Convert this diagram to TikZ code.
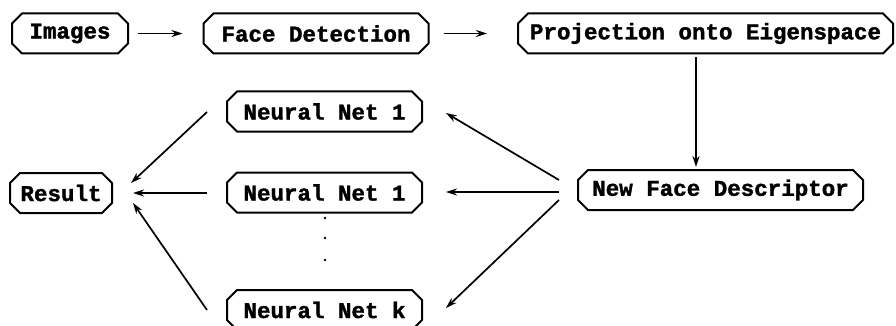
\documentclass[tikz,border=0pt]{standalone}
\usepackage{fontspec}
\setmonofont{Liberation Mono}[BoldFeatures={FakeBold=1.6}]
\usetikzlibrary{shapes.misc,arrows.meta}

\tikzset{
  stage/.style={chamfered rectangle, chamfered rectangle xsep=5pt,
    chamfered rectangle ysep=5pt, draw, line width=2pt,
    inner sep=0pt, minimum height=40pt,
    font=\ttfamily\bfseries\fontsize{22.5}{24}\selectfont},
  flow/.style={line width=1.7pt, -{Stealth[length=11pt,width=7pt]}},
}

\begin{document}
\begin{tikzpicture}[x=1pt,y=-1pt]
  \useasboundingbox (0,0) rectangle (896,326);
  \clip (0,0) rectangle (896,326);

  % pipeline stages
  \node[stage, minimum width=116pt] (img)  at (70,33.5)   {Images};
  \node[stage, minimum width=225pt] (face) at (316,33.5)  {Face Detection};
  \node[stage, minimum width=375pt] (proj) at (705.5,33.5){Projection onto Eigenspace};
  \node[stage, minimum width=285pt] (nfd)  at (720.5,190) {New Face Descriptor};

  % classifier bank
  \node[stage, minimum width=195pt] (nn1) at (324.5,111.5) {Neural Net 1};
  \node[stage, minimum width=195pt] (nn2) at (324.5,192.5) {Neural Net 1};
  \node[stage, minimum width=195pt] (nnk) at (324.5,310)   {Neural Net k};
  \node[stage, minimum width=102pt] (res) at (61,193)      {Result};

  % ellipsis between the nets
  \foreach \yy/\nm in {218/d1, 238/d2, 260/d3}
    \fill (325,\yy) circle[radius=1.4pt] coordinate (\nm);

  % top row (anchor shifts are in page units: positive y points up)
  \draw[flow] ([xshift=9pt]img.east)  -- ([xshift=-20pt]face.west);
  \draw[flow] ([xshift=14pt]face.east) -- ([xshift=-30pt]proj.west);
  \draw[flow] ([xshift=-9.5pt,yshift=-3pt]proj.south) -- ([xshift=-24.5pt,yshift=2pt]nfd.north);

  % descriptor fans out to the nets
  \draw[flow] ([shift={(-18pt,10pt)}]nfd.west)  -- ([shift={(23pt,-1.5pt)}]nn1.east);
  \draw[flow] ([shift={(-18pt,-2pt)}]nfd.west)  -- ([shift={(23pt,0.5pt)}]nn2.east);
  \draw[flow] ([shift={(-18pt,-10pt)}]nfd.west) -- ([shift={(23pt,2pt)}]nnk.east);

  % nets feed the result
  \draw[flow] ([shift={(-19pt,-0.5pt)}]nn1.west) -- ([shift={(18pt,10pt)}]res.east);
  \draw[flow] ([shift={(-19pt,-0.5pt)}]nn2.west) -- ([shift={(20pt,0pt)}]res.east);
  \draw[flow] ([shift={(-19pt,0pt)}]nnk.west)    -- ([shift={(20pt,-10pt)}]res.east);
\end{tikzpicture}
\end{document}
